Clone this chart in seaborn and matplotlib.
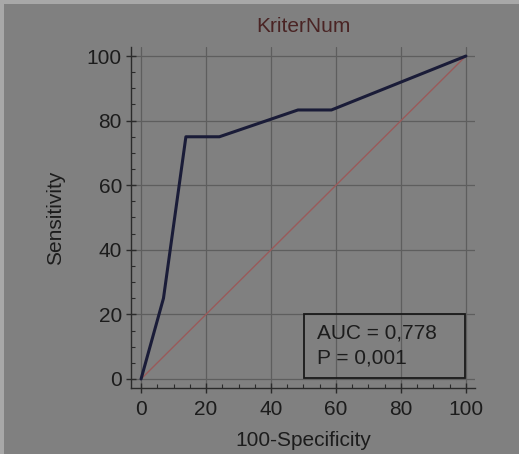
import matplotlib
matplotlib.use("Agg")
import matplotlib.pyplot as plt
from matplotlib.patches import Rectangle
from matplotlib.ticker import MultipleLocator
import seaborn as sns
import pandas as pd

# Data
fpr = [0, 6.9, 13.8, 24.1, 48.3, 58.6, 100]   # 100-Specificity
tpr = [0, 25.0, 75.0, 75.0, 83.3, 83.3, 100]  # Sensitivity
diag = [0, 100]
title = "KriterNum"
auc_text = "AUC = 0,778"
p_text = "P = 0,001"

sns.set_theme(style="white")
plt.rcParams['font.family'] = ['Liberation Sans', 'DejaVu Sans']

bg = '#808080'
fig = plt.figure(figsize=(5.19, 4.54), dpi=100, facecolor=bg)
ax = fig.add_axes([131/519, 1-388/454, (475-131)/519, (388-47)/454])
ax.set_facecolor(bg)

# light border strips at top and left
fig.patches.append(Rectangle((0, 1-4/454), 1, 4/454, transform=fig.transFigure,
                             facecolor='#a8a8a8', edgecolor='none', zorder=0))
fig.patches.append(Rectangle((0, 0), 4/519, 1, transform=fig.transFigure,
                             facecolor='#a8a8a8', edgecolor='none', zorder=0))

roc = pd.DataFrame({"x": fpr, "y": tpr})
ref = pd.DataFrame({"x": diag, "y": diag})
sns.lineplot(data=ref, x="x", y="y", ax=ax, color='#9a5a5a', linewidth=1.0,
             sort=False, zorder=2)
sns.lineplot(data=roc, x="x", y="y", ax=ax, color='#1a1c38', linewidth=2.2,
             sort=False, zorder=3)

ax.set_xlim(-3.1, 102.8)
ax.set_ylim(-2.8, 102.8)
ax.xaxis.set_major_locator(MultipleLocator(20))
ax.yaxis.set_major_locator(MultipleLocator(20))
ax.xaxis.set_minor_locator(MultipleLocator(5))
ax.yaxis.set_minor_locator(MultipleLocator(5))
ax.grid(True, which='major', color='#5e5e5e', linewidth=0.9, zorder=1)
ax.set_axisbelow(True)

for s in ['top', 'right']:
    ax.spines[s].set_visible(False)
for s in ['left', 'bottom']:
    ax.spines[s].set_color('#2a2a2a')
    ax.spines[s].set_linewidth(1.0)

ax.tick_params(which='major', direction='inout', length=7, width=1.0,
               color='#2a2a2a', labelsize=15, labelcolor='#1c1c1c',
               left=True, bottom=True, pad=3)
ax.tick_params(axis='x', which='major', pad=5)
ax.tick_params(which='minor', direction='in', length=3, width=0.8,
               color='#2a2a2a', left=True, bottom=True)

ax.set_xlabel("100-Specificity", fontsize=15, color='#1c1c1c', labelpad=9)
ax.set_ylabel("Sensitivity", fontsize=15, color='#1c1c1c', labelpad=16)
ax.set_title(title, fontsize=15, color='#4a2424', pad=11)

ax.add_patch(Rectangle((50.2, 0.3), 49.5, 19.9, facecolor='none',
                       edgecolor='#1a1a1a', linewidth=1.3, zorder=4))
ax.text(54.2, 14.3, auc_text, fontsize=15, color='#1c1c1c', va='center', zorder=5)
ax.text(54.2, 6.4, p_text, fontsize=15, color='#1c1c1c', va='center', zorder=5)

fig.savefig("out.png", dpi=100, facecolor=bg)
